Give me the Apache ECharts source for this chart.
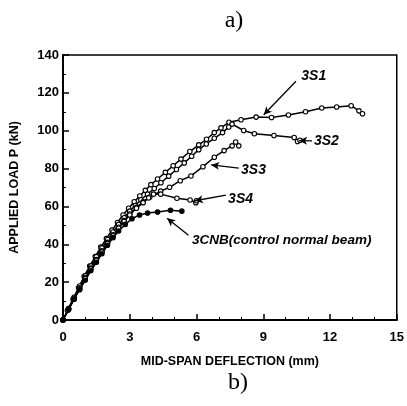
<!DOCTYPE html>
<html>
<head>
<meta charset="utf-8">
<script src="https://cdn.jsdelivr.net/npm/echarts@6/dist/echarts.min.js"></script>
<style>
html, body { margin: 0; padding: 0; background: #fff; }
#main { width: 407px; height: 406px; }
</style>
</head>
<body>
<div id="main"></div>
<script>
var xTicks = [0, 3, 6, 9, 12, 15];
var yTicks = [0, 20, 40, 60, 80, 100, 120, 140];

var s3S1 = [[0,0],[0.2,5],[0.45,11],[0.7,17],[0.95,23],[1.2,28.5],[1.45,33.5],[1.7,38.5],[1.95,43],[2.2,47.5],[2.45,51.5],[2.7,55.5],[2.95,59],[3.2,62.5],[3.45,65.5],[3.7,68.5],[3.95,71.5],[4.25,74.5],[4.6,78],[4.95,81.5],[5.3,85],[5.7,89],[6.1,92.5],[6.45,95.5],[6.8,99],[7.1,101.5],[7.46,104.5],[8.0,105.8],[8.68,107.2],[9.37,107],[10.13,108.3],[10.9,110],[11.63,112],[12.3,112.5],[12.95,113.2],[13.3,110.5],[13.46,109]];
var s3S2 = [[0,0],[0.25,6],[0.5,12],[0.75,18],[1.0,23.5],[1.25,28.5],[1.5,33.5],[1.75,38],[2.0,42.5],[2.25,46.5],[2.5,50.5],[2.75,54],[3.0,57.5],[3.25,60.5],[3.5,63.5],[3.8,66.5],[4.1,69.5],[4.4,72.5],[4.75,76],[5.1,79.5],[5.45,83],[5.78,86.5],[6.1,90],[6.44,93],[6.8,96],[7.17,99],[7.45,102],[7.6,103.5],[8.12,100.1],[8.6,98.4],[9.48,97.5],[10.39,96.4],[10.54,94.3],[10.65,95]];
var s3S3 = [[0,0],[0.25,6],[0.5,11.5],[0.75,17],[1.0,22.5],[1.25,27.5],[1.5,32],[1.75,36.5],[2.0,41],[2.25,45],[2.5,49],[2.75,52.5],[3.0,56],[3.3,59.5],[3.6,62.5],[3.9,65],[4.39,68.1],[4.79,70.1],[5.27,73.6],[5.75,76.1],[6.29,81],[6.8,86],[7.24,89.5],[7.6,92],[7.76,94],[7.9,92]];
var s3S4 = [[0,0],[0.25,5.5],[0.5,11],[0.75,16.5],[1.0,22],[1.25,27],[1.5,31.5],[1.75,36],[2.0,40.5],[2.25,44.5],[2.5,48.5],[2.75,52],[3.0,55.5],[3.3,59],[3.6,62],[3.85,64.5],[4.07,66.5],[4.39,66.5],[5.12,64.3],[5.71,63.4],[5.97,62],[6.0,63]];
var s3CNB = [[0,0],[0.25,5.5],[0.5,11],[0.75,16],[1.0,21],[1.25,26],[1.5,30.5],[1.75,35],[2.0,39.5],[2.25,43.5],[2.5,47],[2.8,50.5],[3.1,53.5],[3.44,55.5],[3.8,56.5],[4.25,57],[4.83,58],[5.34,57.5]];

// annotation: label position, arrow start, arrow tip (data coords)
var notes = {
  '3S1': { label: [11.27, 128.6], from: [10.47, 126.1], to: [9.02, 108.4] },
  '3S2': { label: [11.84, 94.6], from: [11.19, 94.6], to: [10.61, 94.8] },
  '3S3': { label: [8.56, 79.3], from: [7.9, 80.2], to: [6.66, 81.9] },
  '3S4': { label: [7.98, 63.7], from: [7.32, 66], to: [5.93, 63] },
  '3CNB(control normal beam)': { label: [5.78, 42.2], from: [5.64, 44.8], to: [4.68, 53.7], left: true }
};

var chartDom = document.getElementById('main');
var myChart = echarts.init(chartDom, null, { renderer: 'canvas' });

function makeSeries(name, data, filled) {
  var n = notes[name];
  return {
    name: name,
    type: 'line',
    data: data,
    symbol: 'circle',
    symbolSize: filled ? 4.5 : 4.5,
    showSymbol: true,
    lineStyle: { color: '#000', width: 1.5 },
    itemStyle: { color: filled ? '#000' : '#fff', borderColor: '#000', borderWidth: 1.1 },
    z: 3,
    markLine: {
      silent: true,
      animation: false,
      symbol: ['none', 'arrow'],
      symbolSize: [6, 8],
      lineStyle: { color: '#000', width: 1.3, type: 'solid' },
      label: { show: false },
      data: [[{ coord: n.from }, { coord: n.to }]]
    },
    markPoint: {
      silent: true,
      animation: false,
      symbol: 'circle',
      symbolSize: 1,
      itemStyle: { color: 'rgba(0,0,0,0)' },
      label: {
        show: true,
        position: n.left ? 'right' : 'inside',
        distance: 0,
        formatter: name,
        color: '#000',
        fontFamily: 'Liberation Sans, Arial, sans-serif',
        fontStyle: 'italic',
        fontWeight: 'bold',
        fontSize: n.left ? 13.5 : 14
      },
      data: [{ coord: n.label }]
    }
  };
}

var axisFont = 'Liberation Sans, Arial, sans-serif';

var option = {
  animation: false,
  backgroundColor: '#fff',
  title: [
    { text: 'a)', left: 229, top: 4, textAlign: 'center',
      textStyle: { fontFamily: 'Liberation Serif, Times New Roman, serif', fontWeight: 'normal', fontSize: 24, color: '#000' } },
    { text: 'b)', left: 233, top: 366, textAlign: 'center',
      textStyle: { fontFamily: 'Liberation Serif, Times New Roman, serif', fontWeight: 'normal', fontSize: 24, color: '#000' } }
  ],
  grid: {
    left: 63, right: 5, top: 55, bottom: 86,
    show: true, borderColor: '#000', borderWidth: 1.5, backgroundColor: 'transparent'
  },
  xAxis: {
    type: 'value',
    min: xTicks[0], max: xTicks[xTicks.length - 1], interval: 3,
    name: 'MID-SPAN DEFLECTION (mm)',
    nameLocation: 'middle',
    nameGap: 35,
    nameTextStyle: { color: '#000', fontFamily: axisFont, fontWeight: 'bold', fontSize: 12.5 },
    axisLine: { lineStyle: { color: '#000', width: 2 } },
    axisTick: { inside: true, length: 6, lineStyle: { color: '#000', width: 1.5 } },
    minorTick: { show: true, splitNumber: 3, length: 3, lineStyle: { color: '#000', width: 1 } },
    axisLabel: { color: '#000', fontFamily: axisFont, fontWeight: 'bold', fontSize: 13, margin: 11 },
    splitLine: { show: false }
  },
  yAxis: {
    type: 'value',
    min: yTicks[0], max: yTicks[yTicks.length - 1], interval: 20,
    name: 'APPLIED LOAD P (kN)',
    nameLocation: 'middle',
    nameGap: 42,
    nameTextStyle: { color: '#000', fontFamily: axisFont, fontWeight: 'bold', fontSize: 12.5 },
    axisLine: { lineStyle: { color: '#000', width: 2 } },
    axisTick: { inside: true, length: 6, lineStyle: { color: '#000', width: 1.5 } },
    minorTick: { show: true, splitNumber: 2, length: 3, lineStyle: { color: '#000', width: 1 } },
    axisLabel: { color: '#000', fontFamily: axisFont, fontWeight: 'bold', fontSize: 13, margin: 4 },
    splitLine: { show: false }
  },
  series: [
    makeSeries('3S1', s3S1, false),
    makeSeries('3S2', s3S2, false),
    makeSeries('3S3', s3S3, false),
    makeSeries('3S4', s3S4, false),
    makeSeries('3CNB(control normal beam)', s3CNB, true)
  ]
};

option && myChart.setOption(option);
</script>
</body>
</html>
